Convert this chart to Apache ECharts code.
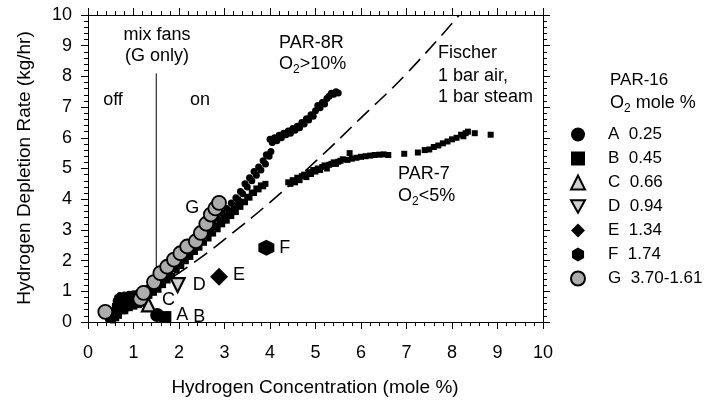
<!DOCTYPE html>
<html>
<head>
<meta charset="utf-8">
<script src="https://cdn.jsdelivr.net/npm/echarts@6/dist/echarts.min.js"></script>
<style>
  html, body { margin: 0; padding: 0; background: #fff; }
  #chart { width: 722px; height: 405px; }
</style>
</head>
<body>
<div id="chart"></div>
<script>
// Hydrogen depletion rate vs. hydrogen concentration for passive autocatalytic recombiners

// PAR-8R test, O2 > 10 %  (x: H2 mole %, y: kg/hr)
const par8R = [
  [0.45,0.08],[0.50,0.15],[0.55,0.25],[0.58,0.40],[0.60,0.55],[0.62,0.70],[0.65,0.80],[0.70,0.86],
  [0.75,0.84],[0.80,0.88],[0.85,0.86],[0.90,0.90],[0.95,0.88],[1.00,0.92],[1.05,0.90],[1.10,0.95],
  [1.15,0.97],[1.20,1.00],[1.25,1.05],[1.30,1.10],[1.35,1.14],[1.40,1.20],[1.45,1.24],
  [1.50,1.22],[1.55,1.40],[1.60,1.35],[1.65,1.55],[1.70,1.48],[1.75,1.70],[1.80,1.66],[1.85,1.85],
  [1.90,1.80],[1.95,2.00],[2.00,1.95],[2.05,2.18],[2.10,2.10],[2.15,2.30],[2.20,2.25],[2.25,2.45],
  [2.30,2.38],[2.35,2.60],[2.40,2.52],[2.45,2.75],[2.50,2.68],[2.55,2.90],[2.60,2.82],[2.65,3.05],
  [2.70,2.98],[2.75,3.22],[2.80,3.12],[2.85,3.38],[2.90,3.28],[2.95,3.55],[3.00,3.45],[3.05,3.70],
  [3.10,3.62],[3.15,3.88],[3.20,3.80],[3.25,4.05],[3.30,3.98],[3.35,4.25],[3.40,4.18],[3.45,4.50],
  [3.50,4.40],[3.55,4.70],[3.60,4.60],[3.65,4.90],[3.70,4.78],[3.75,5.05],[3.80,4.95],[3.85,5.25],
  [3.90,5.15],[3.92,5.45],[3.98,5.40],[4.02,5.55],[4.00,5.95],[4.05,5.85],[4.10,6.00],[4.15,5.90],
  [4.20,6.08],[4.25,6.00],[4.30,6.15],[4.35,6.10],[4.40,6.22],[4.45,6.15],[4.50,6.30],[4.55,6.25],
  [4.60,6.38],[4.65,6.33],[4.70,6.50],[4.75,6.45],[4.80,6.62],[4.85,6.58],[4.90,6.75],[4.95,6.70],
  [5.00,6.88],[5.05,7.05],[5.10,6.98],[5.15,7.15],[5.20,7.10],[5.25,7.28],[5.30,7.35],[5.35,7.45],
  [5.40,7.42],[5.45,7.50],[5.50,7.46]
];

// PAR-7 test, O2 < 5 %
const par7 = [
  [0.50,0.10],[0.55,0.05],[0.58,0.20],[0.60,0.30],[0.62,0.12],[0.65,0.45],[0.66,0.30],[0.68,0.20],
  [0.70,0.55],[0.72,0.42],[0.70,0.70],[0.75,0.35],[0.75,0.75],[0.78,0.50],[0.80,0.62],[0.82,0.35],
  [0.85,0.45],[0.85,0.78],[0.88,0.60],[0.90,0.68],[0.92,0.45],[0.95,0.55],[0.95,0.80],[0.98,0.65],
  [1.00,0.72],[1.02,0.50],[1.05,0.60],[1.05,0.82],[1.08,0.70],[1.10,0.78],[1.12,0.55],[1.15,0.68],
  [1.15,0.85],[1.18,0.72],[1.20,0.82],[1.22,0.60],[1.25,0.75],[1.28,0.80],[1.28,0.48],[1.30,0.90],
  [1.35,0.85],[1.40,1.00],[1.45,0.95],[1.50,1.10],[1.55,1.05],
  [1.60,1.25],[1.65,1.20],[1.70,1.40],[1.75,1.35],[1.80,1.55],[1.85,1.50],[1.90,1.72],[1.95,1.68],
  [2.00,1.88],[2.05,1.82],[2.10,2.02],[2.15,1.98],[2.20,2.18],[2.25,2.12],[2.30,2.32],[2.35,2.28],
  [2.40,2.48],[2.45,2.42],[2.50,2.62],[2.55,2.58],[2.60,2.78],[2.65,2.72],[2.70,2.92],[2.75,2.88],
  [2.80,3.08],[2.85,3.02],[2.90,3.22],[2.95,3.18],[3.00,3.35],[3.05,3.30],[3.10,3.48],[3.15,3.45],
  [3.20,3.62],[3.25,3.58],[3.30,3.78],[3.35,3.75],[3.40,3.92],[3.45,3.90],[3.50,4.08],[3.55,4.05],
  [3.60,4.22],[3.65,4.20],[3.70,4.35],[3.75,4.32],[3.80,4.45],[3.85,4.42],[3.90,4.50],
  [4.40,4.55],[4.45,4.50],[4.50,4.62],[4.55,4.55],[4.60,4.70],[4.65,4.62],[4.70,4.75],[4.75,4.80],
  [4.80,4.72],[4.85,4.88],[4.90,4.82],[4.95,4.95],[5.00,4.90],[5.05,5.00],[5.10,4.95],[5.15,5.05],
  [5.20,5.10],[5.25,5.00],[5.30,5.12],[5.35,5.15],[5.40,5.20],[5.45,5.15],[5.50,5.22],[5.55,5.25],
  [5.60,5.30],[5.70,5.28],[5.75,5.50],[5.80,5.32],[5.90,5.35],[6.00,5.38],[6.10,5.40],[6.20,5.42],
  [6.30,5.44],[6.40,5.45],[6.50,5.46],[6.60,5.44],[6.95,5.48],[7.25,5.52],[7.40,5.60],[7.50,5.62],
  [7.60,5.70],[7.70,5.75],[7.80,5.82],[7.90,5.88],[8.00,5.95],[8.10,6.00],[8.20,6.10],[8.25,6.05],
  [8.30,6.15],[8.35,6.20],[8.50,6.15],[8.85,6.10]
];

// Fischer correlation, 1 bar air + 1 bar steam
const fischer = [[1.90,1.50],[2.50,2.12],[3.00,2.69],[4.00,3.90],[5.00,5.23],[6.00,6.65],[7.00,8.09],[8.16,10.0]];

// mixing fans switched on at 1.5 % (PAR-16 test G only)
const mixFans = [[1.5,1.35],[1.5,8.1]];

// PAR-16 tests
const pointA = [[1.52,0.23]];
const pointB = [[1.70,0.16]];
const pointC = [[1.33,0.56]];
const pointD = [[1.97,1.20]];
const pointE = [[2.88,1.47]];
const pointF = [[3.92,2.42]];
const pointG = [
  [0.38,0.33],[1.15,0.75],[1.22,0.95],[1.45,1.30],[1.59,1.59],[1.74,1.80],[1.89,2.03],
  [2.03,2.24],[2.18,2.46],[2.37,2.63],[2.48,2.90],[2.60,3.20],[2.70,3.50],[2.80,3.70],[2.88,3.88]
];
const par16Names = ['A  0.25','B  0.45','C  0.66','D  0.94','E  1.34','F  1.74','G  3.70-1.61'];

const xTitle = 'Hydrogen Concentration (mole %)';
const yTitle = 'Hydrogen Depletion Rate (kg/hr)';

const FONT = "'Liberation Sans', Arial, Helvetica, sans-serif";
const INK = '#000';
const downTriangle = 'path://M0,0 L10,0 L5,9 Z';
const hexagon = 'path://M5,0 L9.33,2.5 L9.33,7.5 L5,10 L0.67,7.5 L0.67,2.5 Z';

// plot frame in pixels
const PLOT = { left: 88, right: 179, top: 15, bottom: 83 };
const MAJOR = 7, MINOR = 4;

function pointLabel(letter, position, distance, offset) {
  return { show: true, formatter: letter, position: position, distance: distance, offset: offset || [0,0],
           color: INK, fontSize: 18, fontFamily: FONT };
}

function frameAxis(extra) {
  return Object.assign({
    type: 'value', min: 0, max: 10, interval: 1,
    axisLine: { show: true, onZero: false, lineStyle: { color: INK, width: 1 } },
    axisTick: { show: false },
    splitLine: { show: false },
    minorSplitLine: { show: false }
  }, extra);
}

// thin strips along the frame whose grid lines form the tick marks
const stripGrids = [
  { left: PLOT.left, right: PLOT.right, top: 405 - PLOT.bottom, height: MAJOR, dir: 'x', minor: false },
  { left: PLOT.left, right: PLOT.right, top: 405 - PLOT.bottom, height: MINOR, dir: 'x', minor: true },
  { left: PLOT.left, right: PLOT.right, top: PLOT.top - MAJOR, height: MAJOR, dir: 'x', minor: false },
  { left: PLOT.left, right: PLOT.right, top: PLOT.top - MINOR, height: MINOR, dir: 'x', minor: true },
  { left: PLOT.left - MAJOR, width: MAJOR, top: PLOT.top, bottom: PLOT.bottom, dir: 'y', minor: false },
  { left: PLOT.left - MINOR, width: MINOR, top: PLOT.top, bottom: PLOT.bottom, dir: 'y', minor: true },
  { left: 722 - PLOT.right, width: MAJOR, top: PLOT.top, bottom: PLOT.bottom, dir: 'y', minor: false },
  { left: 722 - PLOT.right, width: MINOR, top: PLOT.top, bottom: PLOT.bottom, dir: 'y', minor: true }
];

function tickAxis(gridIndex, minor) {
  return {
    type: 'value', gridIndex: gridIndex, min: 0, max: 10, interval: 1,
    axisLine: { show: false }, axisTick: { show: false }, axisLabel: { show: false },
    splitLine: { show: true, lineStyle: { color: INK, width: 1 } },
    minorTick: { show: false, splitNumber: 5 },
    minorSplitLine: { show: minor, lineStyle: { color: INK, width: 1 } }
  };
}
function hiddenAxis(gridIndex) {
  return { type: 'value', gridIndex: gridIndex, min: 0, max: 1, show: false };
}

const richSub = {
  n: { fontSize: 18, fontFamily: FONT, color: INK, lineHeight: 24, verticalAlign: 'middle' },
  s: { fontSize: 12, fontFamily: FONT, color: INK, lineHeight: 12, verticalAlign: 'bottom' }
};

function plain(text, x, y, align, size, rotation) {
  return { type: 'text', x: x, y: y, z: 50, rotation: rotation || 0,
    style: { text: text, fill: INK, fontSize: size || 18, fontFamily: FONT,
             align: align || 'left', verticalAlign: 'middle' } };
}
function subText(main, rest, x, y) {
  return { type: 'text', x: x, y: y, z: 50,
    style: { text: '{n|' + main + '}{s|2}{n|' + rest + '}', rich: richSub, fill: INK,
             align: 'left', verticalAlign: 'middle', fontSize: 18, fontFamily: FONT } };
}

const grids = [Object.assign({ containLabel: false }, PLOT)];
const xAxes = [
  frameAxis({ gridIndex: 0, position: 'bottom',
    axisLabel: { color: INK, fontSize: 18, fontFamily: FONT, margin: 22 } }),
  frameAxis({ gridIndex: 0, position: 'top', axisLabel: { show: false } })
];
const yAxes = [
  frameAxis({ gridIndex: 0, position: 'left',
    axisLabel: { color: INK, fontSize: 18, fontFamily: FONT, margin: 16 } }),
  frameAxis({ gridIndex: 0, position: 'right', axisLabel: { show: false } })
];
stripGrids.forEach(function (g, i) {
  const gi = i + 1;
  const box = { containLabel: false, left: g.left, top: g.top };
  if (g.right !== undefined) box.right = g.right;
  if (g.width !== undefined) box.width = g.width;
  if (g.height !== undefined) box.height = g.height;
  if (g.bottom !== undefined) box.bottom = g.bottom;
  grids.push(box);
  if (g.dir === 'x') { xAxes.push(tickAxis(gi, g.minor)); yAxes.push(hiddenAxis(gi)); }
  else { yAxes.push(tickAxis(gi, g.minor)); xAxes.push(hiddenAxis(gi)); }
});

const chart = echarts.init(document.getElementById('chart'), null, { renderer: 'canvas' });

const option = {
  backgroundColor: '#ffffff',
  animation: false,
  grid: grids,
  xAxis: xAxes,
  yAxis: yAxes,
  legend: {
    orient: 'vertical', left: 565, top: 121, itemWidth: 14, itemHeight: 14, itemGap: 7,
    textStyle: { color: INK, fontSize: 17, fontFamily: FONT, padding: [0, 0, 0, 18], lineHeight: 14 },
    data: [
      { name: par16Names[0] }, { name: par16Names[1] }, { name: par16Names[2] },
      { name: par16Names[3], icon: downTriangle }, { name: par16Names[4] },
      { name: par16Names[5] }, { name: par16Names[6] }
    ],
    selectedMode: false
  },
  series: [
    { name: 'Fischer', type: 'line', data: fischer, smooth: true, showSymbol: false, symbol: 'none',
      lineStyle: { color: INK, width: 1.6, type: [16, 8] }, z: 2, silent: true },
    { name: 'mix fans', type: 'line', data: mixFans, symbol: 'none',
      lineStyle: { color: INK, width: 1 }, z: 2, silent: true },
    { name: 'PAR-8R', type: 'scatter', data: par8R, symbol: 'circle', symbolSize: 7,
      itemStyle: { color: INK, opacity: 1 }, z: 3 },
    { name: 'PAR-7', type: 'scatter', data: par7, symbol: 'rect', symbolSize: 6,
      itemStyle: { color: INK, opacity: 1 }, z: 3 },
    { name: par16Names[0], type: 'scatter', data: pointA, symbol: 'circle', symbolSize: 14,
      itemStyle: { color: INK, opacity: 1 }, label: pointLabel('A', 'right', 12), z: 5 },
    { name: par16Names[1], type: 'scatter', data: pointB, symbol: 'rect', symbolSize: 12,
      itemStyle: { color: INK, opacity: 1 }, label: pointLabel('B', 'right', 22), z: 5 },
    { name: par16Names[2], type: 'scatter', data: pointC, symbol: 'triangle', symbolSize: 13,
      itemStyle: { color: '#d0d0d0', borderColor: INK, borderWidth: 2.2, opacity: 1 },
      label: pointLabel('C', 'right', 6, [0, -5]), z: 5 },
    { name: par16Names[3], type: 'scatter', data: pointD, symbol: downTriangle, symbolSize: 14,
      itemStyle: { color: '#d0d0d0', borderColor: INK, borderWidth: 2.2, opacity: 1 },
      label: pointLabel('D', 'right', 7), z: 5 },
    { name: par16Names[4], type: 'scatter', data: pointE, symbol: 'diamond', symbolSize: 18,
      itemStyle: { color: INK, opacity: 1 }, label: pointLabel('E', 'right', 5, [0, -2]), z: 5 },
    { name: par16Names[5], type: 'scatter', data: pointF, symbol: hexagon, symbolSize: 16,
      itemStyle: { color: INK, opacity: 1 }, label: pointLabel('F', 'right', 5), z: 5 },
    { name: par16Names[6], type: 'scatter', symbol: 'circle', symbolSize: 14,
      itemStyle: { color: '#acacac', borderColor: INK, borderWidth: 1.8, opacity: 1 }, z: 6,
      data: pointG.map(function (p, i) {
        return i === pointG.length - 1
          ? { value: p, label: pointLabel('G', 'left', 12, [0, 5]) }
          : { value: p };
      }) }
  ],
  graphic: [
    plain(xTitle, 315, 388, 'center', 19),
    plain(yTitle, 25, 168, 'center', 19, Math.PI / 2),
    plain('mix fans', 157, 35, 'center'),
    plain('(G only)', 157, 56, 'center'),
    plain('off', 113, 100, 'center'),
    plain('on', 200, 100, 'center'),
    plain('PAR-8R', 279, 43, 'left'),
    subText('O', '>10%', 279, 64),
    plain('Fischer', 438, 53, 'left'),
    plain('1 bar air,', 438, 76, 'left'),
    plain('1 bar steam', 438, 97, 'left'),
    plain('PAR-7', 398, 174, 'left'),
    subText('O', '<5%', 398, 196),
    plain('PAR-16', 610, 80, 'left', 17),
    subText('O', ' mole %', 610, 103)
  ]
};

chart.setOption(option);
</script>
</body>
</html>
